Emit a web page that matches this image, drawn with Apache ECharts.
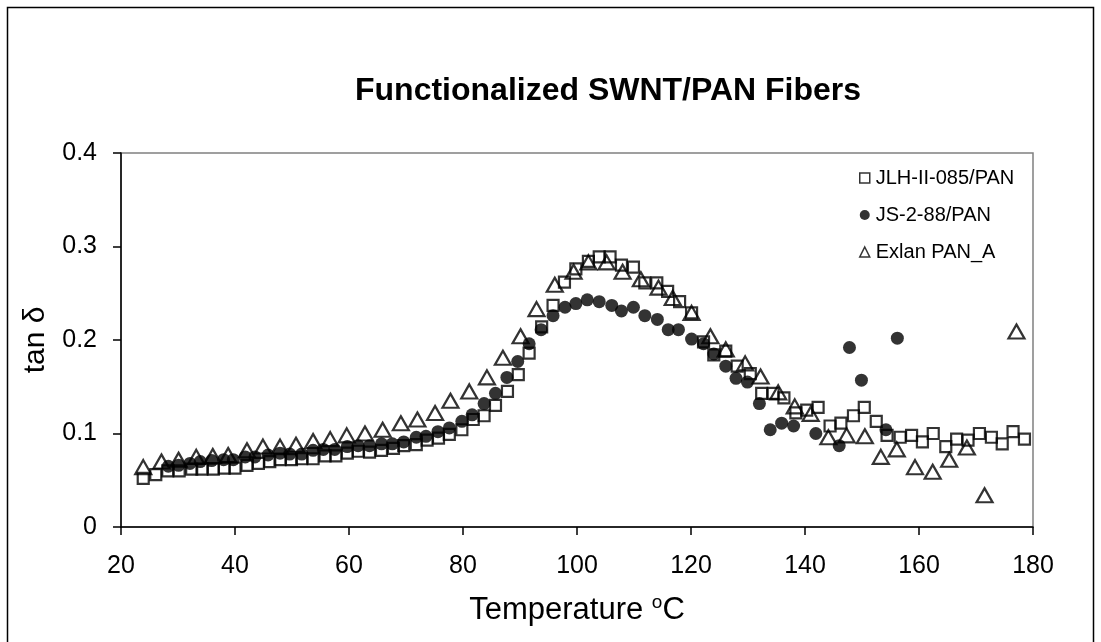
<!DOCTYPE html>
<html>
<head>
<meta charset="utf-8">
<script src="https://cdn.jsdelivr.net/npm/echarts@6/dist/echarts.min.js"></script>
<style>html,body{margin:0;padding:0;background:#fff;}#c{width:1101px;height:642px;}</style>
</head>
<body>
<div id="c"></div>
<script>
const chartTitle = 'Functionalized SWNT/PAN Fibers';
const seriesNames = ['JLH-II-085/PAN', 'JS-2-88/PAN', 'Exlan PAN_A'];
const xTicks = [20, 40, 60, 80, 100, 120, 140, 160, 180];
const yTicks = [0, 0.1, 0.2, 0.3, 0.4];

const jlhT = [23.9,26.1,28.2,30.2,32.4,34.2,36.2,38.1,40.0,42.1,44.1,46.1,47.9,49.9,51.7,53.7,55.8,57.7,59.7,
  61.6,63.6,65.7,67.8,69.6,71.8,73.7,75.7,77.6,79.8,81.8,83.7,85.7,87.8,89.7,91.6,
  93.8,95.8,97.8,99.8,102.0,103.9,105.8,107.8,109.9,111.9,114.0,115.9,118.0,
  120.1,122.2,124.0,126.1,128.1,130.4,132.4,134.4,136.3,138.4,140.3,142.3,144.4,146.3,
  148.5,150.4,152.5,154.4,156.7,158.7,160.6,162.5,164.7,166.6,168.6,170.6,172.7,174.6,176.5,178.5];
const jlhV = [.052,.056,.060,.060,.062,.062,.062,.063,.063,.066,.068,.070,.072,.072,.073,.073,.076,.076,.079,
  .081,.080,.082,.084,.087,.088,.093,.095,.099,.104,.115,.119,.130,.145,.163,.186,
  .214,.237,.262,.276,.284,.289,.289,.280,.278,.261,.261,.252,.241,
  .229,.198,.184,.188,.172,.164,.143,.143,.138,.122,.125,.128,.108,.111,
  .119,.128,.113,.098,.096,.098,.091,.100,.086,.094,.093,.100,.096,.089,.102,.094];

const jsT = [28.3,30.1,32.1,33.9,35.9,38.0,39.7,41.8,43.5,45.8,47.9,49.6,51.7,53.7,55.5,57.5,59.7,61.6,
  63.6,65.7,67.6,69.6,71.8,73.5,75.6,77.6,79.8,81.6,83.7,85.7,87.7,89.6,91.6,
  93.7,95.8,97.9,99.8,101.8,103.9,106.1,107.8,109.9,111.9,114.1,116.0,117.8,
  120.1,122.2,124.0,126.1,127.9,129.9,132.0,133.9,135.9,138.0,141.9,146.0,147.8,149.9,154.2,156.2];
const jsV = [.065,.066,.068,.070,.071,.072,.072,.075,.075,.077,.079,.078,.078,.082,.083,.083,.086,.087,
  .087,.089,.089,.091,.096,.097,.102,.106,.113,.120,.132,.143,.160,.177,.196,
  .211,.226,.235,.239,.243,.241,.237,.231,.235,.226,.222,.211,.211,
  .201,.196,.185,.172,.159,.155,.132,.104,.111,.108,.100,.087,.192,.157,.104,.202];

const exT = [23.9,27.1,30.1,33.2,36.1,38.8,42.1,44.9,47.9,50.7,53.7,56.7,59.6,
  62.8,65.9,69.1,72.0,75.1,77.8,81.1,84.2,87.0,
  90.1,92.9,96.1,99.4,102.0,105.2,108.0,111.2,114.3,116.8,
  120.1,123.4,126.1,129.5,132.2,135.3,138.2,141.0,144.1,
  147.3,150.5,153.3,156.1,159.3,162.4,165.3,168.4,171.5,177.1];
const exV = [.064,.070,.072,.075,.076,.077,.082,.086,.086,.088,.092,.094,.098,
  .100,.104,.111,.115,.122,.135,.145,.160,.181,
  .204,.233,.259,.273,.283,.283,.273,.265,.256,.245,
  .229,.204,.190,.175,.161,.144,.129,.121,.096,
  .098,.097,.075,.083,.064,.059,.072,.085,.034,.209];

const zip = (a, b) => a.map((t, i) => [t, b[i]]);
const FONT = '"Liberation Sans", Arial, sans-serif';

const chart = echarts.init(document.getElementById('c'), null, {renderer: 'canvas'});
chart.setOption({
  animation: false,
  backgroundColor: '#fff',
  title: {
    text: chartTitle, left: 350, top: 70,
    textStyle: {fontFamily: FONT, fontSize: 32, fontWeight: 'bold', color: '#000'}
  },
  graphic: [{
    type: 'rect', z: 100, silent: true,
    shape: {x: 7.5, y: 7.5, width: 1086, height: 700},
    style: {fill: 'none', stroke: '#000', lineWidth: 1.5}
  }],
  legend: {
    orient: 'vertical', left: 854, top: 163, itemGap: 17,
    itemWidth: 10, itemHeight: 10,
    textStyle: {fontFamily: FONT, fontSize: 20, color: '#000', lineHeight: 20, padding: [0, 0, 0, 1]},
    data: [
      {name: seriesNames[0], icon: 'rect', itemStyle: {color: 'rgba(0,0,0,0)', borderColor: '#000', borderWidth: 1.5}},
      {name: seriesNames[1], icon: 'circle', itemStyle: {color: '#000', borderWidth: 0}},
      {name: seriesNames[2], icon: 'triangle', itemStyle: {color: 'rgba(0,0,0,0)', borderColor: '#000', borderWidth: 1.5}}
    ]
  },
  grid: {
    left: 121, top: 153, right: 68, bottom: 115,
    show: true, borderColor: '#808080', borderWidth: 1.5, backgroundColor: 'transparent'
  },
  xAxis: {
    type: 'value', min: xTicks[0], max: xTicks[xTicks.length - 1], interval: 20,
    name: '{a|Temperature }{s|o}{a|C}', nameLocation: 'middle', nameGap: 66,
    nameTextStyle: {
      rich: {
        a: {fontFamily: FONT, fontSize: 31, color: '#000'},
        s: {fontFamily: FONT, fontSize: 19, color: '#000', padding: [0, 0, 16, 0]}
      }
    },
    axisLine: {show: true, onZero: false, lineStyle: {color: '#000', width: 1.5}},
    axisTick: {show: true, inside: false, length: 8, lineStyle: {color: '#000', width: 1.5}},
    axisLabel: {fontFamily: FONT, fontSize: 25, color: '#000', margin: 27},
    splitLine: {show: false}
  },
  yAxis: {
    type: 'value', min: yTicks[0], max: yTicks[yTicks.length - 1], interval: 0.1,
    name: 'tan δ', nameLocation: 'middle', nameGap: 70,
    nameTextStyle: {fontFamily: FONT, fontSize: 30, color: '#000'},
    axisLine: {show: true, onZero: false, lineStyle: {color: '#000', width: 1.5}},
    axisTick: {show: true, inside: false, length: 8, lineStyle: {color: '#000', width: 1.5}},
    axisLabel: {fontFamily: FONT, fontSize: 25, color: '#000', margin: 24,
      formatter: v => String(+v.toFixed(1))},
    splitLine: {show: false}
  },
  series: [
    {
      name: seriesNames[0], type: 'scatter', data: zip(jlhT, jlhV),
      symbol: 'rect', symbolSize: 11, z: 2,
      itemStyle: {color: 'rgba(0,0,0,0)', borderColor: '#000', borderWidth: 2.2}
    },
    {
      name: seriesNames[1], type: 'scatter', data: zip(jsT, jsV),
      symbol: 'circle', symbolSize: 13, z: 3,
      itemStyle: {color: '#000', borderWidth: 0}
    },
    {
      name: seriesNames[2], type: 'scatter', data: zip(exT, exV),
      symbol: 'triangle', symbolSize: [16, 14], z: 4,
      itemStyle: {color: 'rgba(0,0,0,0)', borderColor: '#000', borderWidth: 2.2}
    }
  ]
});
</script>
</body>
</html>
